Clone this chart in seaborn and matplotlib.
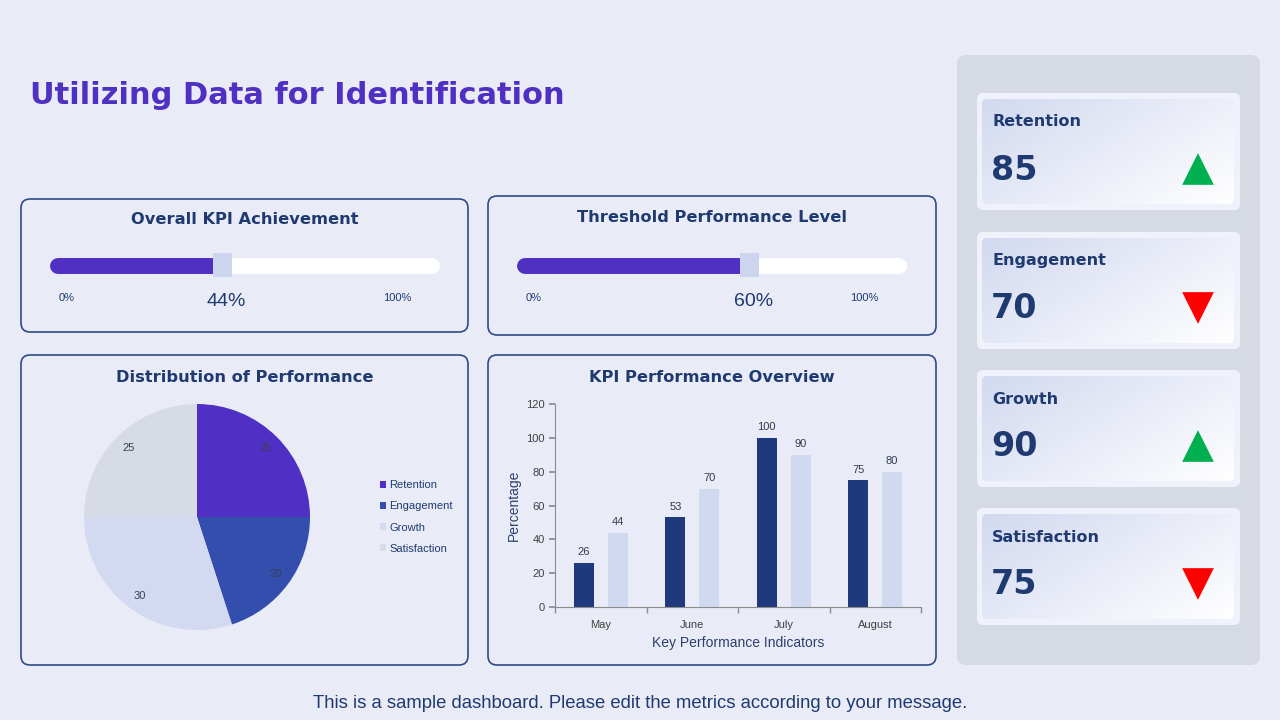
import numpy as np
import pandas as pd
import seaborn as sns
import matplotlib.pyplot as plt
from matplotlib.patches import FancyBboxPatch

# ---- data ----
title_text = "Utilizing Data for Identification"
footer_text = "This is a sample dashboard. Please edit the metrics according to your message."

gauge_titles = ["Overall KPI Achievement", "Threshold Performance Level"]
gauge_values = [44, 60]

pie_labels = ["Retention", "Engagement", "Growth", "Satisfaction"]
pie_values = [25, 20, 30, 25]

months = ["May", "June", "July", "August"]
series_a = [26, 53, 100, 75]
series_b = [44, 70, 90, 80]

kpi_names = ["Retention", "Engagement", "Growth", "Satisfaction"]
kpi_values = [85, 70, 90, 75]
kpi_up = [True, False, True, False]

# ---- style ----
BG = "#E9ECF7"
NAVY = "#1F3A70"
PURPLE = "#5030C2"
BORDER = "#2E4A86"
pie_colors = ["#5030C4", "#344EAE", "#D2D9F1", "#D6DBE6"]
bar_colors = ["#1F3A7C", "#D0D9EF"]

sns.set_theme(style="white")
plt.rcParams["font.family"] = ["DejaVu Sans"]

W, H = 1280, 720
fig = plt.figure(figsize=(12.8, 7.2), dpi=100, facecolor=BG)

bg = fig.add_axes([0, 0, 1, 1])
bg.set_xlim(0, W)
bg.set_ylim(H, 0)
bg.axis("off")
bg.set_facecolor(BG)


def rect(x0, y0, x1, y1):
    # pixel box -> figure fraction
    return [x0 / W, 1 - y1 / H, (x1 - x0) / W, (y1 - y0) / H]


def rbox(x0, y0, x1, y1, r=8, **kw):
    p = FancyBboxPatch((x0, y0), x1 - x0, y1 - y0,
                       boxstyle=f"round,pad=0,rounding_size={r}", **kw)
    bg.add_patch(p)
    return p


# title + footer
bg.text(30, 95, title_text, fontsize=22, fontweight="bold", color=PURPLE,
        va="center", ha="left")
bg.text(640, 703, footer_text, fontsize=13.3, color=NAVY, ha="center", va="center",
        family="Liberation Sans")

# panels
panels = [(21, 199, 468, 332), (488, 196, 936, 335),
          (21, 355, 468, 665), (488, 355, 936, 665)]
for (x0, y0, x1, y1) in panels:
    rbox(x0, y0, x1, y1, r=9, facecolor=BG, edgecolor=BORDER, lw=1.2)

panel_titles = [gauge_titles[0], gauge_titles[1],
                "Distribution of Performance", "KPI Performance Overview"]
title_pos = [(245, 220), (712, 218), (245, 377), (712, 377)]
for t, (x, y) in zip(panel_titles, title_pos):
    bg.text(x, y, t, fontsize=11.7, fontweight="bold", color=NAVY,
            ha="center", va="center")

# ---- gauges ----
gauge_px = [(58, 432), (525, 899)]
for val, (gx0, gx1) in zip(gauge_values, gauge_px):
    gax = fig.add_axes(rect(gx0, 250, gx1, 310))
    gax.set_xlim(0, 100)
    gax.set_ylim(310, 250)
    gax.axis("off")
    gax.plot([0, 100], [266, 266], color="white", lw=11.5,
             solid_capstyle="round", clip_on=False)
    gax.plot([0, val], [266, 266], color=PURPLE, lw=11.5,
             solid_capstyle="round", clip_on=False)
    gax.bar(val, 24, bottom=253, width=5, color="#CDD5EE", linewidth=0, zorder=3)
    gax.text(2.4, 298, "0%", fontsize=8, color=NAVY, ha="center", va="center",
             family="Liberation Sans")
    gax.text(90.6, 298, "100%", fontsize=8, color=NAVY, ha="center", va="center",
             family="Liberation Sans")
    gax.text(val + 1, 302, f"{val}%", fontsize=14, color=NAVY, ha="center",
             va="center", family="Liberation Sans")

# ---- pie ----
pax = fig.add_axes(rect(84, 404, 310, 630))
total = sum(pie_values)
wedges, _, autotexts = pax.pie(
    pie_values, colors=pie_colors, startangle=90, counterclock=False,
    autopct=lambda p: f"{round(p * total / 100)}", pctdistance=0.86,
    wedgeprops=dict(linewidth=0, edgecolor="none"),
    textprops=dict(fontsize=8, color="#3A3F55", family="Liberation Sans"))
pax.set_xlim(-1, 1)
pax.set_ylim(-1, 1)
pax.set_aspect("equal")
leg = fig.legend(wedges, pie_labels, loc="center left",
                 bbox_to_anchor=(370 / W, 1 - 517 / H), frameon=False,
                 handlelength=0.55, handleheight=0.55, handletextpad=0.3,
                 labelspacing=1.0, prop=dict(size=8, family="Liberation Sans"))
for t in leg.get_texts():
    t.set_color(NAVY)

# ---- bar chart ----
bax = fig.add_axes(rect(555, 404, 921, 607))
df = pd.DataFrame({
    "month": months * 2,
    "series": ["A"] * len(months) + ["B"] * len(months),
    "value": series_a + series_b,
})
sns.barplot(data=df, x="month", y="value", hue="series", palette=bar_colors,
            width=0.74, gap=0.41, legend=False, ax=bax, saturation=1, linewidth=0)
bax.set_facecolor("none")
bax.set_ylim(0, 120)
bax.set_yticks(range(0, 121, 20))
bax.set_xlim(-0.5, len(months) - 0.5)
for c in bax.containers:
    bax.bar_label(c, padding=4, fontsize=8, color="#333A50", family="Liberation Sans")
for s in ["top", "right"]:
    bax.spines[s].set_visible(False)
for s in ["left", "bottom"]:
    bax.spines[s].set_color("#8C8C8C")
    bax.spines[s].set_linewidth(0.8)
bax.set_xticks(np.arange(-0.5, len(months), 1), minor=True)
bax.tick_params(axis="x", which="major", length=0, labelsize=8, labelcolor="#404040", pad=9)
bax.tick_params(axis="x", which="minor", length=4, color="#8C8C8C", direction="out", bottom=True)
bax.tick_params(axis="y", length=4, color="#8C8C8C", direction="out", left=True,
                labelsize=8, labelcolor="#404040")
for lab in bax.get_xticklabels() + bax.get_yticklabels():
    lab.set_family("Liberation Sans")
bax.set_xlabel("Key Performance Indicators", fontsize=10, color="#2E3F6E",
               family="Liberation Sans", labelpad=5)
bax.set_ylabel("Percentage", fontsize=10, color="#2E3F6E",
               family="Liberation Sans", labelpad=4)

# ---- KPI sidebar ----
rbox(957, 55, 1260, 665, r=9, facecolor="#D5DAE3", edgecolor="none")
grad_n = 200
gx, gy = np.meshgrid(np.linspace(0, 1, grad_n), np.linspace(0, 1, grad_n))
t = np.clip((gx * 0.6 + gy * 0.4), 0, 1)[..., None]
c0 = np.array([0xD2, 0xD9, 0xF0]) / 255
c1 = np.array([1.0, 1.0, 1.0])
grad = c0 * (1 - t) + c1 * t

card_tops = [93, 232, 370, 508]
for name, val, up, top in zip(kpi_names, kpi_values, kpi_up, card_tops):
    x0, x1, y0, y1 = 977, 1240, top, top + 117
    rbox(x0, y0, x1, y1, r=6, facecolor="#EFF2FA", edgecolor="none")
    inner = rbox(x0 + 5, y0 + 6, x1 - 6, y1 - 6, r=5, facecolor="none", edgecolor="none")
    im = bg.imshow(grad, extent=(x0 + 5, x1 - 6, y1 - 6, y0 + 6), origin="upper",
                   aspect="auto", zorder=1)
    im.set_clip_path(inner)
    bg.text(992, y0 + 29, name, fontsize=11.5, fontweight="bold", color=NAVY,
            ha="left", va="center", zorder=3)
    bg.text(991, y0 + 77, f"{val}", fontsize=24, fontweight="bold", color=NAVY,
            ha="left", va="center", zorder=3)
    bg.scatter([1198], [y0 + 76], marker="^" if up else "v", s=520,
               color="#00B050" if up else "#FF0000", edgecolors="none", zorder=3)

bg.set_xlim(0, W)
bg.set_ylim(H, 0)

fig.savefig("out.png", dpi=100, facecolor=BG)
